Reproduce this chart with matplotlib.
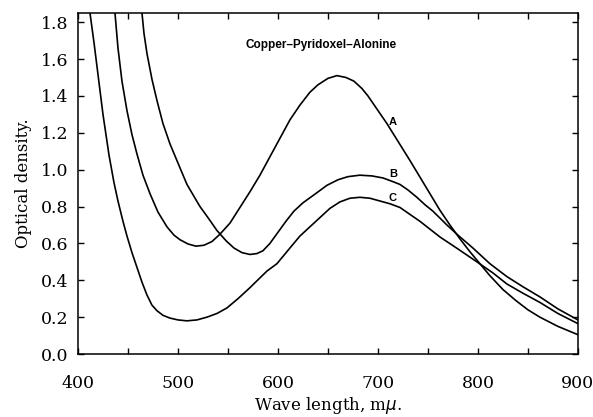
import matplotlib
matplotlib.use("Agg")
import matplotlib.pyplot as plt

# wave length (m-mu) and optical density
wl_a = [437, 440, 444, 449, 454, 459, 465, 472, 480, 489, 496, 502, 510, 518,
        526, 534, 542, 552, 562, 572, 582, 592, 602, 612, 622, 632, 640, 650,
        659, 668, 676, 684, 690, 709, 732, 752, 762, 772, 782, 792, 802, 812,
        825, 838, 850, 862, 880, 900]
od_a = [1.85, 1.66, 1.48, 1.32, 1.19, 1.085, 0.97, 0.87, 0.77, 0.69, 0.645,
        0.62, 0.597, 0.585, 0.59, 0.61, 0.65, 0.71, 0.795, 0.88, 0.97, 1.07,
        1.17, 1.27, 1.35, 1.42, 1.46, 1.495, 1.51, 1.50, 1.48, 1.44, 1.40,
        1.25, 1.05, 0.87, 0.78, 0.70, 0.625, 0.555, 0.49, 0.425, 0.35, 0.29,
        0.24, 0.20, 0.15, 0.105]

wl_b = [464, 466, 469, 474, 479, 485, 492, 502, 509, 516, 522, 530, 539, 548,
        556, 564, 572, 579, 585, 592, 600, 608, 616, 625, 639, 649, 660, 670,
        682, 694, 705, 715, 722, 730, 739, 747, 755, 769, 780, 795, 812, 829,
        845, 862, 880, 900]
od_b = [1.85, 1.74, 1.63, 1.49, 1.375, 1.25, 1.14, 1.01, 0.92, 0.855, 0.80,
        0.74, 0.67, 0.615, 0.575, 0.55, 0.54, 0.545, 0.56, 0.60, 0.66, 0.72,
        0.775, 0.82, 0.875, 0.915, 0.945, 0.962, 0.97, 0.966, 0.955, 0.935,
        0.92, 0.89, 0.85, 0.81, 0.775, 0.70, 0.645, 0.575, 0.49, 0.42, 0.365,
        0.31, 0.245, 0.185]

wl_c = [412, 416, 419, 425, 431, 436, 440, 445, 449, 454, 459, 464, 469, 474,
        479, 485, 492, 500, 509, 519, 529, 539, 549, 560, 572, 589, 599, 612,
        622, 632, 642, 652, 662, 672, 682, 692, 702, 712, 722, 742, 762, 780,
        799, 815, 829, 845, 862, 880, 900]
od_c = [1.85, 1.69, 1.56, 1.30, 1.08, 0.93, 0.83, 0.72, 0.64, 0.55, 0.47,
        0.39, 0.32, 0.265, 0.235, 0.21, 0.195, 0.185, 0.18, 0.185, 0.20, 0.22,
        0.25, 0.30, 0.36, 0.45, 0.49, 0.575, 0.64, 0.69, 0.74, 0.79, 0.825,
        0.845, 0.85, 0.845, 0.83, 0.815, 0.795, 0.72, 0.635, 0.57, 0.50, 0.44,
        0.38, 0.33, 0.28, 0.22, 0.165]

labels = ["A", "B", "C"]
label_wl = [711, 711, 711]
label_od = [1.26, 0.975, 0.845]

fig = plt.figure(figsize=(5.93, 4.17), dpi=100)
ax = fig.add_axes([0.1315, 0.151, 0.843, 0.818])

for wl, od in [(wl_a, od_a), (wl_b, od_b), (wl_c, od_c)]:
    ax.plot(wl, od, color="black", lw=1.2)

for t, x, y in zip(labels, label_wl, label_od):
    ax.text(x, y, t, fontsize=8, fontweight="bold", family="Liberation Sans",
            ha="left", va="center")

ax.text(643, 1.675, "Copper\u2013Pyridoxel\u2013Alonine", fontsize=8.5,
        fontweight="bold", family="Liberation Sans", ha="center", va="center")

ax.set_xlim(400, 900)
ax.set_ylim(0, 1.85)
ax.set_xticks(range(400, 901, 100))
ax.set_xticks(range(450, 900, 100), minor=True)
ax.set_yticks([i * 0.2 for i in range(10)])
ax.set_yticklabels(["%.1f" % (i * 0.2) for i in range(10)])
ax.tick_params(which="both", direction="in", top=True, right=True,
               length=4, width=1)
ax.tick_params(axis="x", pad=15)
ax.tick_params(axis="y", pad=7)
for lab in ax.get_xticklabels() + ax.get_yticklabels():
    lab.set_family("DejaVu Serif")
    lab.set_fontsize(12.5)
for s in ax.spines.values():
    s.set_linewidth(1.1)

ax.set_xlabel("Wave length, m$\\mu$.", family="DejaVu Serif", fontsize=12,
              labelpad=2)
ax.set_ylabel("Optical density.", family="DejaVu Serif", fontsize=12,
              labelpad=6)

fig.savefig("out.png", dpi=100)
